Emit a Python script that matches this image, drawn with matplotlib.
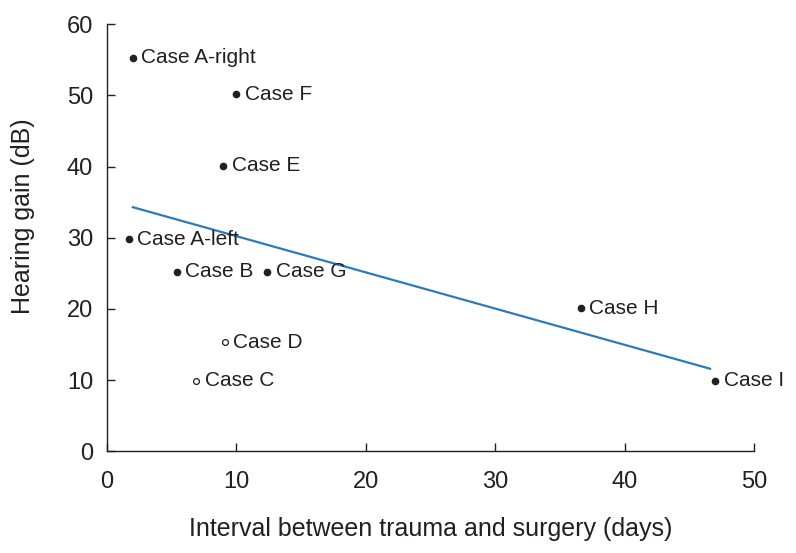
import matplotlib.pyplot as plt

plt.rcParams['font.family'] = ['Liberation Sans', 'DejaVu Sans']

# データ
cases = ['Case A-right', 'Case F', 'Case E', 'Case A-left', 'Case B',
         'Case G', 'Case H', 'Case D', 'Case C', 'Case I']
interval = [2.0, 10.0, 9.0, 1.7, 5.4, 12.4, 36.6, 9.1, 6.9, 47.0]
gain = [55.3, 50.2, 40.1, 29.8, 25.2, 25.2, 20.1, 15.3, 9.9, 9.9]
hollow = [False, False, False, False, False, False, False, True, True, False]

# 回帰直線の端点
fit_x = [2.0, 46.6]
fit_y = [34.3, 11.6]

fig = plt.figure(figsize=(7.96, 5.53), dpi=100)
ax = fig.add_axes([0.1344, 0.184, 0.8129, 0.772])

ax.plot(fit_x, fit_y, color='#2b7bba', lw=1.6, zorder=2)

for name, x, y, h in zip(cases, interval, gain, hollow):
    if h:
        ax.plot(x, y, 'o', ms=4.2, mfc='white', mec='#231f20', mew=0.9, zorder=3)
    else:
        ax.plot(x, y, 'o', ms=4.5, color='#231f20', zorder=3)
    ax.annotate(name, (x, y), xytext=(6, 0), textcoords='offset points',
                ha='left', va='center', fontsize=15, color='#231f20')

ax.set_xlim(0, 50)
ax.set_ylim(0, 60)
ax.set_xticks(range(0, 51, 10))
ax.set_yticks(range(0, 61, 10))
ax.spines['top'].set_visible(False)
ax.spines['right'].set_visible(False)
for s in ['left', 'bottom']:
    ax.spines[s].set_linewidth(1.0)
    ax.spines[s].set_color('#231f20')
ax.tick_params(direction='in', length=6, width=1.0, color='#231f20',
               labelsize=17, labelcolor='#231f20')
ax.tick_params(axis='x', pad=14)
ax.tick_params(axis='y', pad=10)

ax.set_xlabel('Interval between trauma and surgery (days)', fontsize=18,
              color='#231f20')
ax.set_ylabel('Hearing gain (dB)', fontsize=18, color='#231f20')
ax.xaxis.set_label_coords(0.5, -0.155)
ax.yaxis.set_label_coords(-0.112, 0.55)

fig.savefig('out.png', dpi=100)
